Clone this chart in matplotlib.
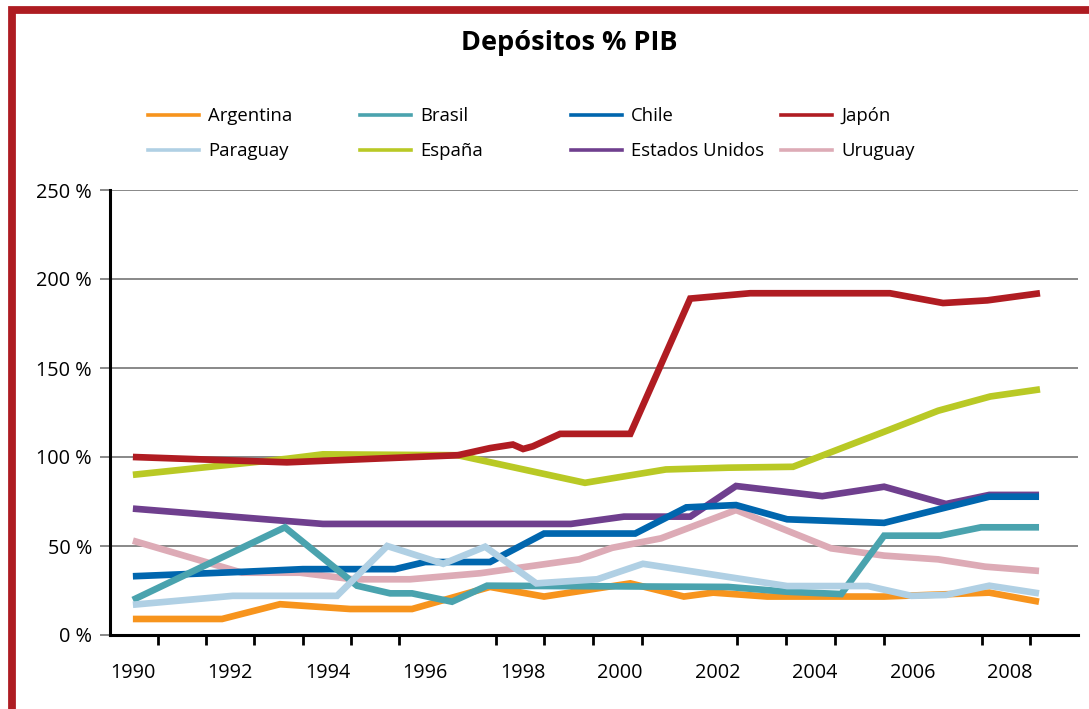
import matplotlib
matplotlib.use('Agg')
import matplotlib.pyplot as plt
from matplotlib.lines import Line2D
from matplotlib.patches import Rectangle

plt.rcParams['font.family'] = ['Open Sans', 'DejaVu Sans']

# values (x in years, y in % of GDP)
arg_x = [1990.0, 1991.83, 1993.02, 1994.46, 1995.73, 1997.33, 1998.44, 2000.21, 2001.31, 2001.91, 2003.02, 2005.42, 2007.58, 2008.6]
arg_y = [9, 9, 17.3, 14.6, 14.6, 27, 21.6, 29, 21.6, 23.8, 21.6, 21.6, 23.8, 18.7]

bra_x = [1990.0, 1993.12, 1994.6, 1995.28, 1995.73, 1996.55, 1997.27, 2002.22, 2003.43, 2004.54, 2005.42, 2006.57, 2007.41, 2008.6]
bra_y = [19.7, 60.5, 27.7, 23.4, 23.4, 18.7, 27.7, 27, 24.3, 23, 55.8, 55.8, 60.5, 60.5]

chi_x = [1990.0, 1992.26, 1993.49, 1995.38, 1996.0, 1997.33, 1998.44, 2000.31, 2001.36, 2002.38, 2003.43, 2005.42, 2007.58, 2008.6]
chi_y = [33, 35.5, 37, 37, 41, 41, 57, 57, 71.7, 73, 65, 63, 77.7, 77.7]

jap_x = [1990.0, 1993.16, 1996.67, 1997.33, 1997.8, 1998.01, 1998.21, 1998.77, 2000.21, 2001.44, 2002.67, 2005.54, 2006.63, 2007.54, 2008.62]
jap_y = [100, 97, 101, 105, 107, 104.5, 106, 113, 113, 189, 192, 192, 186.5, 188, 192]

par_x = [1990.0, 1992.05, 1994.19, 1995.22, 1996.37, 1997.23, 1998.28, 1999.53, 2000.47, 2003.43, 2005.09, 2005.98, 2006.69, 2007.58, 2008.6]
par_y = [17, 22, 22, 50, 40, 49.6, 29, 31.3, 40, 27.5, 27.5, 22, 22.5, 27.7, 23.4]

esp_x = [1990.0, 1993.16, 1993.9, 1996.67, 1999.28, 2000.94, 2002.22, 2003.55, 2005.5, 2006.53, 2007.6, 2008.62]
esp_y = [90, 99, 101.5, 101, 85.5, 93, 94, 94.5, 115, 126, 134, 138]

usa_x = [1990.0, 1993.9, 1998.99, 2000.08, 2001.44, 2002.38, 2004.15, 2005.42, 2006.69, 2007.58, 2008.6]
usa_y = [71, 62.4, 62.4, 66.5, 66.5, 83.7, 78, 83.3, 73.6, 78.7, 78.7]

uru_x = [1990.0, 1992.24, 1993.43, 1994.52, 1995.69, 1997.13, 1998.09, 1999.16, 1999.84, 2000.84, 2002.38, 2004.33, 2005.42, 2006.53, 2007.49, 2008.6]
uru_y = [53, 35, 35, 31.3, 31.3, 34.7, 38.4, 42.5, 49, 54.3, 70.2, 48.7, 44.6, 42.5, 38.4, 36]

names = ['Argentina', 'Brasil', 'Chile', 'Japón', 'Paraguay', 'España', 'Estados Unidos', 'Uruguay']
colors = ['#F7941D', '#4AA3AE', '#0066AE', '#B01C22', '#B0D0E4', '#B9C925', '#6F3F8E', '#DDABB6']
xs = [arg_x, bra_x, chi_x, jap_x, par_x, esp_x, usa_x, uru_x]
ys = [arg_y, bra_y, chi_y, jap_y, par_y, esp_y, usa_y, uru_y]
# drawing order, bottom to top
draw_order = ['Argentina', 'Uruguay', 'Estados Unidos', 'Chile', 'Brasil', 'Paraguay', 'España', 'Japón']

year_labels = [1990, 1992, 1994, 1996, 1998, 2000, 2002, 2004, 2006, 2008]
tick_marks = [1990.51, 1991.5, 1992.48, 1993.49, 1994.48, 1995.46, 1997.45, 1998.44, 1999.45,
              2000.45, 2002.4, 2003.41, 2004.41, 2005.42, 2007.43, 2008.42]
y_ticks = [0, 50, 100, 150, 200, 250]

W, H = 1089, 709
fig = plt.figure(figsize=(W / 100, H / 100), dpi=100)
ax = fig.add_axes([110 / W, 1 - 635 / H, (1078 - 110) / W, (635 - 190) / H])

for name in draw_order:
    i = names.index(name)
    ax.plot(xs[i], ys[i], color=colors[i], lw=4.8, solid_joinstyle='miter',
            solid_capstyle='butt', zorder=3)

ax.set_xlim(1989.53, 2009.4)
ax.set_ylim(0, 250)

ax.set_yticks(y_ticks)
ax.set_yticklabels([f'{v} %' for v in y_ticks], fontsize=14.3)
ax.yaxis.grid(True, color='#7f7f7f', lw=1.3)
ax.set_axisbelow(True)
ax.tick_params(axis='y', length=7, width=1.3, color='#7f7f7f', pad=6)

ax.set_xticks(year_labels)
ax.set_xticklabels([str(y) for y in year_labels], fontsize=14.3)
ax.tick_params(axis='x', which='major', length=0, pad=20)
ax.set_xticks(tick_marks, minor=True)
ax.tick_params(axis='x', which='minor', length=7, width=2, color='black', direction='out')

for s in ['top', 'right']:
    ax.spines[s].set_visible(False)
ax.spines['left'].set_linewidth(2.2)
ax.spines['bottom'].set_linewidth(2.2)

# legend: four columns with two rows each
col_x = [148, 360, 571, 781]
rows = [['Argentina', 'Paraguay'], ['Brasil', 'España'], ['Chile', 'Estados Unidos'], ['Japón', 'Uruguay']]
for cx, pair in zip(col_x, rows):
    handles = [Line2D([], [], color=colors[names.index(n)], lw=2.6) for n in pair]
    fig.legend(handles, pair, loc='upper left', bbox_to_anchor=(cx / W, 1 - 107 / H),
               frameon=False, fontsize=13.3, handlelength=2.75, handletextpad=0.5,
               labelspacing=0.92, borderpad=0, borderaxespad=0)

fig.text(569.5 / W, 1 - 43 / H, 'Depósitos % PIB', ha='center', va='center',
         fontsize=19.5, fontweight='bold')

# red frame
fig.patches.append(Rectangle((11.5 / W, 1 - 712 / H), 1.2, (712 - 10) / H, transform=fig.transFigure,
                             fill=False, edgecolor='#AE1C22', lw=5.6, figure=fig))

fig.savefig('out.png', dpi=100)
